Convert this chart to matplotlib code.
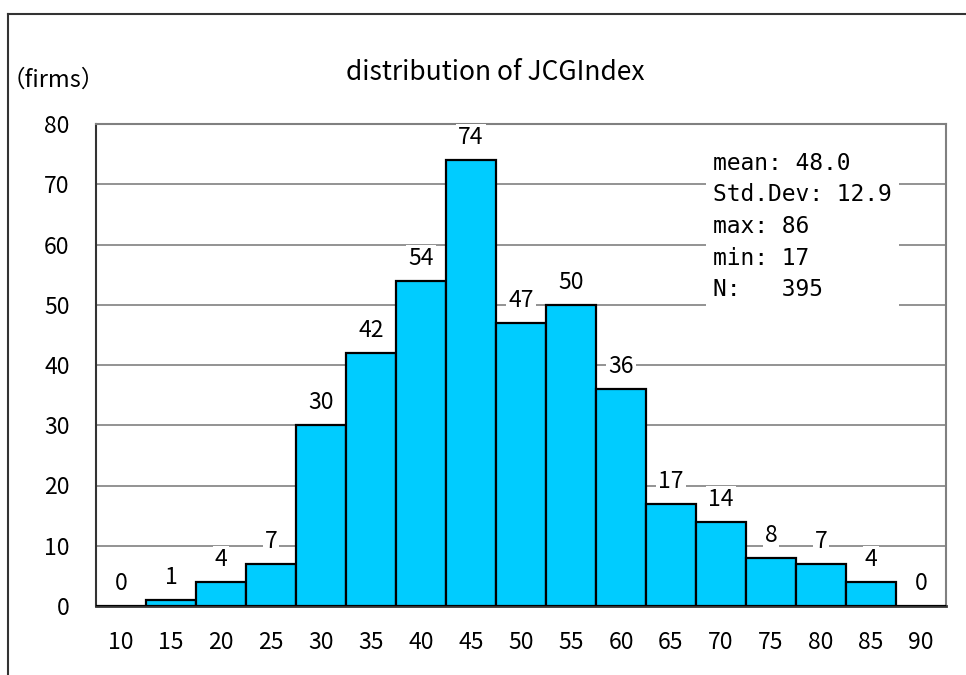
import matplotlib.pyplot as plt
from matplotlib.lines import Line2D

plt.rcParams['font.family'] = ['Noto Sans CJK JP', 'DejaVu Sans']

bins = ['10', '15', '20', '25', '30', '35', '40', '45', '50',
        '55', '60', '65', '70', '75', '80', '85', '90']
counts = [0, 1, 4, 7, 30, 42, 54, 74, 47, 50, 36, 17, 14, 8, 7, 4, 0]
stats = ['mean: 48.0', 'Std.Dev: 12.9', 'max: 86', 'min: 17', 'N:   395']

fig = plt.figure(figsize=(9.66, 6.75), dpi=100)
ax = fig.add_axes([96 / 966, 1 - 606 / 675, 850 / 966, 482 / 675])

x = range(len(bins))
ax.bar(x, counts, width=1.0, color='#00CCFF', edgecolor='black', linewidth=1.6, zorder=3)

# value labels with white background (they cut the gridlines)
for xi, c in zip(x, counts):
    ax.text(xi, c + 3.7, str(c), ha='center', va='center', fontsize=16.5, zorder=4,
            bbox=dict(facecolor='white', edgecolor='none', pad=1.5))

ax.set_xlim(-0.5, len(bins) - 0.5)
ax.set_ylim(0, 80)
ax.set_yticks(range(0, 81, 10))
ax.set_xticks(list(x))
ax.set_xticklabels(bins)
ax.tick_params(axis='both', length=0, labelsize=16.5)
ax.tick_params(axis='x', pad=18)
ax.tick_params(axis='y', pad=19)
ax.yaxis.grid(True, color='#808080', linewidth=1.2, zorder=0)
ax.set_axisbelow(True)

for side in ['top', 'right']:
    ax.spines[side].set_color('#808080')
    ax.spines[side].set_linewidth(1.5)
ax.spines['left'].set_color('#333333')
ax.spines['left'].set_linewidth(1.5)
ax.spines['bottom'].set_color('#333333')
ax.spines['bottom'].set_linewidth(2)

# stats box
ax.text(11.84, 75.4, '\n'.join(stats), ha='left', va='top', fontsize=16.5,
        family='DejaVu Sans Mono', linespacing=1.48, zorder=5,
        bbox=dict(facecolor='white', edgecolor='none', pad=5))

fig.text(495 / 966, 1 - 72 / 675, 'distribution of JCGIndex', ha='center', va='center', fontsize=19)
fig.text(2 / 966, 1 - 80 / 675, '（firms）', ha='left', va='center', fontsize=17)

# outer chart frame
fig.add_artist(Line2D([8 / 966, 1], [1 - 14 / 675, 1 - 14 / 675], color='#333333', linewidth=1.5))
fig.add_artist(Line2D([8 / 966, 8 / 966], [0, 1 - 14 / 675], color='#333333', linewidth=1.5))

fig.savefig('out.png', dpi=100, facecolor='white')
